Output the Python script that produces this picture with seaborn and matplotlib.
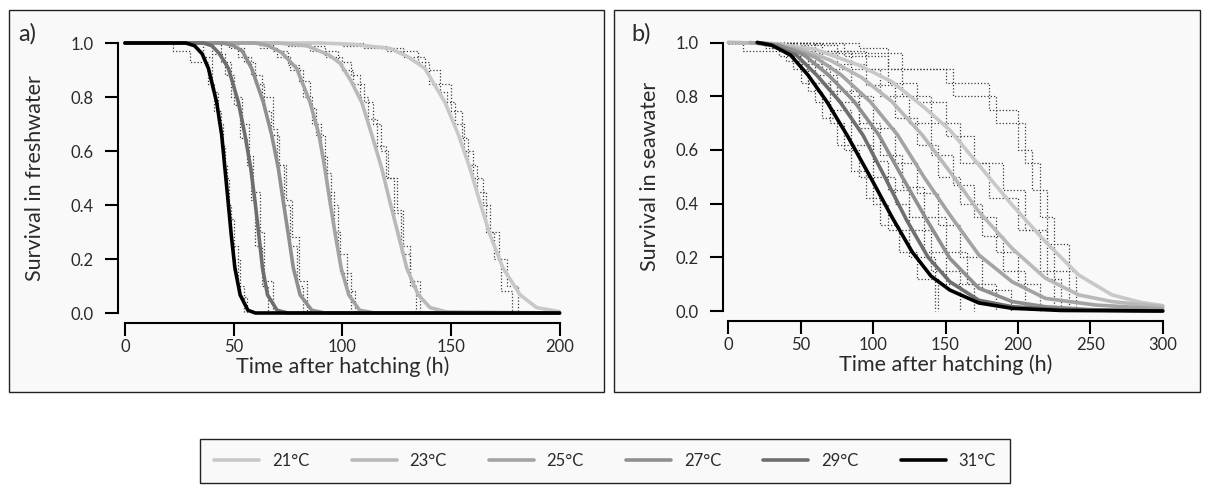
import matplotlib
matplotlib.use("Agg")
import pandas as pd
import matplotlib.pyplot as plt
import seaborn as sns
from matplotlib.lines import Line2D
from matplotlib.patches import Rectangle

# ------------------------------------------------------------
# Data (time after hatching in h, survival)
# ------------------------------------------------------------
TEMPS = ["21°C", "23°C", "25°C", "27°C", "29°C", "31°C"]
GREYS = ["#c8c8c8", "#b9b9b9", "#a3a3a3", "#8f8f8f", "#6e6e6e", "#000000"]

# fitted curves, freshwater
FW_21 = [(0, 1), (90, 1), (105, .995), (122, .98), (130, .95), (138, .906), (147.3, .78),
         (153.5, .66), (158.8, .535), (163.4, .41), (168, .29), (174, .166), (181.9, .067),
         (189.5, .02), (200, .005)]
FW_23 = [(0, 1), (70, 1), (83.6, .99), (94, .955), (99, .925), (104, .86), (109, .78),
         (113.6, .66), (118.2, .535), (122, .41), (125.8, .29), (129.7, .166), (135, .067),
         (140.4, .02), (148, .004), (200, 0)]
FW_25 = [(0, 1), (60, 1), (66, .99), (72, .965), (79, .906), (85.2, .78), (89.3, .66),
         (92, .535), (94.4, .41), (96.8, .29), (99.5, .166), (103, .067), (108, .01),
         (115, 0), (200, 0)]
FW_27 = [(0, 1), (45, 1), (50, .99), (54, .97), (58.3, .906), (63.7, .78), (67.5, .66),
         (70.6, .535), (72.9, .41), (75.2, .29), (77.5, .166), (80.6, .067), (86, .01),
         (92, 0), (200, 0)]
FW_29 = [(0, 1), (36, 1), (40, .99), (43.5, .96), (47.6, .906), (52.2, .78), (55.2, .66),
         (57.9, .535), (59.9, .41), (61.6, .29), (63.3, .166), (65.6, .067), (70, .01),
         (75, 0), (200, 0)]
FW_31 = [(0, 1), (28, 1), (32, .99), (35.5, .96), (38.4, .906), (42.2, .78), (44.5, .66),
         (46, .535), (47.5, .41), (48.9, .29), (50.6, .166), (53, .067), (56.6, .01),
         (60, 0), (200, 0)]

# fitted curves, seawater
SW_21 = [(0, 1), (30, .997), (60, .975), (90, .916), (113, .854), (136, .755), (153, .674),
         (173, .544), (196, .395), (219, .258), (242, .134), (265, .06), (285, .032), (300, .02)]
SW_23 = [(0, 1), (25, .998), (50, .975), (70, .935), (92, .87), (113, .78), (134, .655),
         (153, .519), (173, .37), (196, .233), (219, .122), (242, .06), (265, .035), (300, .016)]
SW_25 = [(15, 1), (30, .99), (45, .975), (60, .945), (78, .879), (98, .78), (117, .655),
         (135, .5), (153, .358), (173, .209), (196, .109), (219, .047), (254, .022), (300, .008)]
SW_27 = [(20, 1), (35, .99), (52, .955), (69, .88), (87, .78), (104, .655), (120, .5),
         (137, .34), (153, .196), (173, .085), (196, .035), (219, .016), (250, .005), (300, 0)]
SW_29 = [(20, 1), (30, .99), (47, .953), (61, .879), (77, .78), (93, .655), (108, .5),
         (123, .34), (138, .2), (153, .109), (173, .04), (196, .016), (230, .005), (300, 0)]
SW_31 = [(20, 1), (30, .99), (43, .953), (55, .879), (68, .78), (82, .655), (98, .5),
         (113, .35), (127, .22), (140, .13), (153, .078), (173, .03), (196, .01), (230, .002),
         (300, 0)]

# Kaplan-Meier replicates, freshwater: event times and survival after each event
KM_FW_TIMES = [
    [22, 30, 38, 41, 44, 46, 48, 50, 53, 56],
    [36, 40, 43, 45, 47, 49, 52, 55],
    [40, 46, 50, 53, 56, 58, 60, 63, 66],
    [44, 49, 54, 57, 59, 62, 64, 68],
    [48, 55, 60, 64, 67, 71, 74, 77, 80, 84],
    [52, 58, 63, 68, 70, 73, 76, 79, 82],
    [62, 70, 76, 82, 86, 90, 93, 96, 99, 104],
    [68, 75, 80, 85, 88, 92, 95, 98, 102, 106],
    [75, 92, 100, 105, 110, 114, 118, 121, 125, 128, 131, 136],
    [85, 98, 104, 108, 112, 116, 120, 124, 127, 131, 134],
    [100, 120, 135, 140, 150, 155, 158, 162, 166, 170, 173, 178],
    [110, 128, 138, 145, 148, 152, 156, 160, 165, 168, 172, 176, 181],
]
KM_FW_SURV = [
    [.97, .93, .85, .75, .62, .5, .35, .2, .06, 0],
    [.95, .82, .7, .55, .4, .25, .1, 0],
    [.96, .88, .77, .65, .55, .42, .25, .1, 0],
    [.93, .8, .7, .58, .45, .3, .12, 0],
    [.98, .93, .85, .75, .66, .55, .42, .28, .12, 0],
    [.95, .88, .8, .68, .55, .4, .25, .1, 0],
    [.98, .95, .9, .8, .7, .58, .45, .3, .15, 0],
    [.97, .92, .86, .76, .66, .52, .4, .22, .08, 0],
    [.99, .95, .9, .85, .78, .7, .6, .5, .38, .25, .12, 0],
    [.97, .93, .88, .8, .72, .62, .5, .37, .22, .1, 0],
    [.99, .97, .93, .85, .75, .65, .55, .45, .3, .2, .08, 0],
    [.98, .95, .9, .82, .78, .7, .6, .5, .4, .3, .2, .1, 0],
]

# Kaplan-Meier replicates, seawater
KM_SW_TIMES = [
    [10, 40, 50, 60, 70, 80, 90, 100, 110, 125, 143],
    [25, 45, 55, 65, 75, 85, 95, 105, 118, 130, 145],
    [35, 55, 70, 85, 100, 115, 125, 140, 160],
    [40, 60, 75, 90, 100, 110, 125, 135, 150, 170],
    [30, 50, 70, 90, 105, 120, 135, 150, 165, 185],
    [45, 65, 85, 100, 115, 130, 145, 160, 175, 195],
    [50, 75, 95, 115, 130, 145, 160, 175, 190, 205],
    [60, 85, 105, 125, 140, 155, 170, 185, 200, 215],
    [60, 95, 120, 140, 160, 180, 200, 215, 225],
    [80, 110, 130, 150, 170, 190, 205, 220, 230],
    [90, 110, 150, 180, 200, 210, 220, 235],
    [65, 120, 155, 185, 205, 215, 225, 240],
]
KM_SW_SURV = [
    [.97, .93, .85, .78, .7, .6, .5, .4, .3, .2, 0],
    [.98, .9, .82, .72, .62, .52, .42, .32, .22, .12, 0],
    [.95, .85, .75, .62, .5, .4, .3, .15, 0],
    [.97, .88, .78, .68, .56, .45, .35, .22, .1, 0],
    [.98, .92, .82, .7, .58, .46, .35, .22, .1, 0],
    [.96, .9, .8, .68, .55, .44, .32, .2, .08, 0],
    [.99, .92, .84, .72, .62, .5, .4, .28, .15, 0],
    [.97, .9, .8, .7, .58, .47, .35, .22, .1, 0],
    [.97, .9, .8, .7, .55, .42, .3, .15, 0],
    [.95, .85, .78, .65, .55, .45, .3, .12, 0],
    [.98, .9, .85, .75, .6, .45, .25, 0],
    [.96, .9, .8, .7, .55, .35, .15, 0],
]

FW_TICKS = [0, 50, 100, 150, 200]
SW_TICKS = [0, 50, 100, 150, 200, 250, 300]
Y_TICKS = [0.0, 0.2, 0.4, 0.6, 0.8, 1.0]


def to_frame(curves):
    rows = []
    for temp, pts in zip(TEMPS, curves):
        for t, s in pts:
            rows.append({"temp": temp, "time": t, "surv": s})
    return pd.DataFrame(rows)


# ------------------------------------------------------------
# Figure layout (pixel based)
# ------------------------------------------------------------
sns.set_theme(style="white")
plt.rcParams["font.family"] = ["Lato", "DejaVu Sans"]

W, H = 1209, 488
PANEL_BG = "#f9f9f9"
TXT = "#2a2a2a"
fig = plt.figure(figsize=(W / 100, H / 100), dpi=100)
fig.patch.set_facecolor("white")


def fbox(x0, y0, x1, y1):
    return [x0 / W, 1 - y1 / H, (x1 - x0) / W, (y1 - y0) / H]


for x0, x1 in [(9, 604), (614, 1200)]:
    b = fbox(x0, 10, x1, 392)
    fig.add_artist(Rectangle((b[0], b[1]), b[2], b[3], transform=fig.transFigure,
                             facecolor=PANEL_BG, edgecolor="#222222", lw=1.0, zorder=0))

palette = dict(zip(TEMPS, GREYS))


def draw_panel(ax, curves, km_t, km_s, xmax, xticks, ylabel, left_off, label_x):
    for ts, ss in zip(km_t, km_s):
        ax.step([0] + ts, [1] + ss, where="post", color="#3a3a3a", lw=0.9,
                ls=(0, (1, 1.6)), zorder=2, clip_on=False)
    df = to_frame(curves)
    sns.lineplot(data=df, x="time", y="surv", hue="temp", hue_order=TEMPS,
                 palette=palette, estimator=None, sort=False, lw=2.6,
                 legend=False, ax=ax, zorder=3, clip_on=False)
    ax.set_facecolor("none")
    ax.set_xlim(0, xmax)
    ax.set_ylim(0, 1)
    ax.set_xticks(xticks)
    ax.set_yticks(Y_TICKS)
    ax.set_yticklabels([f"{v:.1f}" for v in Y_TICKS])
    for side in ["top", "right"]:
        ax.spines[side].set_visible(False)
    ax.spines["left"].set_position(("outward", left_off))
    ax.spines["bottom"].set_position(("outward", 7.2))
    ax.spines["left"].set_bounds(0, 1)
    ax.spines["bottom"].set_bounds(0, xmax)
    for side in ["left", "bottom"]:
        ax.spines[side].set_linewidth(1.5)
        ax.spines[side].set_color("black")
    ax.tick_params(axis="both", direction="out", length=9.4, width=1.5, color="black",
                   labelsize=12, labelcolor=TXT, left=True, bottom=True)
    ax.tick_params(axis="y", pad=8)
    ax.tick_params(axis="x", pad=2)
    ax.set_xlabel("Time after hatching (h)", fontsize=15.5, color=TXT)
    ax.set_ylabel(ylabel, fontsize=15.5, color=TXT)
    ax.xaxis.set_label_coords(0.5, -0.16)
    ax.yaxis.set_label_coords(label_x, 0.5)


ax_a = fig.add_axes(fbox(125, 43, 559.5, 313))
draw_panel(ax_a, [FW_21, FW_23, FW_25, FW_27, FW_29, FW_31], KM_FW_TIMES, KM_FW_SURV,
           200, FW_TICKS, "Survival in freshwater", 5.0, -0.184)

ax_b = fig.add_axes(fbox(728.3, 42.5, 1162.7, 311))
draw_panel(ax_b, [SW_21, SW_23, SW_25, SW_27, SW_29, SW_31], KM_SW_TIMES, KM_SW_SURV,
           300, SW_TICKS, "Survival in seawater", 3.8, -0.157)

fig.text(18 / W, 1 - 34 / H, "a)", fontsize=17, va="center", ha="left", color=TXT)
fig.text(631 / W, 1 - 34 / H, "b)", fontsize=17, va="center", ha="left", color=TXT)

handles = [Line2D([], [], color=c, lw=2.6) for c in GREYS]
leg = fig.legend(handles, TEMPS, loc="center", bbox_to_anchor=(605 / W, 1 - 461 / H),
                 ncol=6, fontsize=12, frameon=True, fancybox=False, handlelength=2.7,
                 handletextpad=0.75, columnspacing=2.55, borderpad=0.85)
frame = leg.get_frame()
frame.set_edgecolor("#222222")
frame.set_facecolor(PANEL_BG)
frame.set_linewidth(1.0)
frame.set_alpha(1)
for txt in leg.get_texts():
    txt.set_color(TXT)

fig.savefig("out.png", dpi=100)
